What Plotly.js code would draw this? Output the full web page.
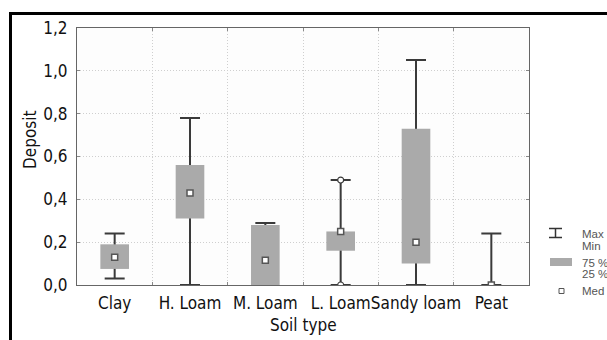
<!DOCTYPE html>
<html>
<head>
<meta charset="utf-8">
<script src="https://cdn.plot.ly/plotly-3.0.1.min.js"></script>
<style>
  html, body { margin: 0; padding: 0; background: #ffffff; }
  #wrap { position: relative; width: 607px; height: 340px; overflow: hidden; background: #ffffff; }
  #chart { position: absolute; left: 0; top: 0; width: 607px; height: 340px; }
  .frameTop { position: absolute; left: 9px; top: 12px; width: 598px; height: 3px; background: #000; }
  .frameLeft { position: absolute; left: 9px; top: 12px; width: 3px; height: 328px; background: #000; }
</style>
</head>
<body>
<div id="wrap">
  <div id="chart"></div>
  <div class="frameTop"></div>
  <div class="frameLeft"></div>
</div>
<script>
// ---- data ----
const categories = ['Clay', 'H. Loam', 'M. Loam', 'L. Loam', 'Sandy loam', 'Peat'];
const maxVals    = [0.24, 0.78, 0.29, 0.49, 1.05, 0.24];
const minVals    = [0.03, 0.00, 0.00, 0.00, 0.00, 0.00];
const q3Vals     = [0.19, 0.56, 0.28, 0.25, 0.73, 0.00];
const q1Vals     = [0.075, 0.31, 0.00, 0.16, 0.10, 0.00];
const medVals    = [0.13, 0.43, 0.115, 0.25, 0.20, 0.00];
const extremeCats = ['L. Loam', 'L. Loam'];
const extremeVals = [0.49, 0.00];
const yTickVals  = [0, 0.2, 0.4, 0.6, 0.8, 1.0, 1.2];
const yTickText  = ['0,0', '0,2', '0,4', '0,6', '0,8', '1,0', '1,2'];

const FONT = '"DejaVu Sans Condensed", "Liberation Sans", Arial, sans-serif';
const LFONT = '"Liberation Sans", Arial, sans-serif';
const WHISK = '#3a3a3a';
const BOXC = '#aaaaaa';

const whiskerTrace = {
  type: 'bar',
  x: categories,
  y: maxVals,
  width: 0.38,
  marker: { color: 'rgba(0,0,0,0)', line: { width: 0 } },
  error_y: {
    type: 'data', symmetric: false,
    array: maxVals.map(() => 0),
    arrayminus: maxVals.map((v, i) => v - minVals[i]),
    color: WHISK, thickness: 2, width: 10
  },
  hoverinfo: 'skip', showlegend: false
};

const boxTrace = {
  type: 'bar',
  x: categories,
  base: q1Vals,
  y: q3Vals.map((v, i) => v - q1Vals[i]),
  width: 0.38,
  marker: { color: BOXC, line: { width: 0 } },
  showlegend: false
};

const extremeTrace = {
  type: 'scatter', mode: 'markers',
  x: extremeCats, y: extremeVals,
  marker: { symbol: 'circle', size: 6, color: '#ffffff', line: { color: WHISK, width: 1.2 } },
  showlegend: false
};

const medTrace = {
  type: 'scatter', mode: 'markers',
  x: categories, y: medVals,
  marker: { symbol: 'square', size: 6, color: '#ffffff', line: { color: '#555555', width: 1.5 } },
  showlegend: false
};

const L = 77, R = 529, T = 28, B = 285;
const pw = R - L, ph = B - T;
const px = v => (v - L) / pw;
const py = v => (B - v) / ph;

const legendShapes = [
  { type: 'line', xref: 'paper', yref: 'paper', x0: px(549), x1: px(562), y0: py(228.5), y1: py(228.5), line: { color: '#333', width: 1.5 } },
  { type: 'line', xref: 'paper', yref: 'paper', x0: px(549), x1: px(562), y0: py(237.5), y1: py(237.5), line: { color: '#333', width: 1.5 } },
  { type: 'line', xref: 'paper', yref: 'paper', x0: px(555.5), x1: px(555.5), y0: py(228.5), y1: py(237.5), line: { color: '#333', width: 1.5 } },
  { type: 'rect', xref: 'paper', yref: 'paper', x0: px(550), x1: px(572), y0: py(258), y1: py(266), fillcolor: BOXC, line: { width: 0 } },
  { type: 'rect', xref: 'paper', yref: 'paper', x0: px(559), x1: px(564), y0: py(288.5), y1: py(293.5), fillcolor: '#fff', line: { color: '#555', width: 1 } }
];

const legFont = { family: LFONT, size: 11.5, color: '#555' };
const legTexts = [['Max', 234], ['Min', 246], ['75 %', 262.5], ['25 %', 274], ['Med', 291]];
const annotations = legTexts.map(([t, y]) => ({
  xref: 'paper', yref: 'paper', x: px(580), y: py(y), xanchor: 'left', yanchor: 'middle',
  text: t, showarrow: false, font: legFont
}));
annotations.push({
  xref: 'paper', yref: 'paper', x: px(30), y: py(140), xanchor: 'center', yanchor: 'middle',
  text: 'Deposit', textangle: -90, showarrow: false, font: { family: FONT, size: 17, color: '#111' }
});
annotations.push({
  xref: 'paper', yref: 'paper', x: 0.5, y: py(325), xanchor: 'center', yanchor: 'middle',
  text: 'Soil type', showarrow: false, font: { family: FONT, size: 17, color: '#111' }
});

const layout = {
  width: 607, height: 340,
  margin: { l: L, r: 607 - R, t: T, b: 340 - B, pad: 0 },
  paper_bgcolor: '#ffffff', plot_bgcolor: '#fdfdfd',
  separators: ', ',
  barmode: 'overlay',
  showlegend: false,
  font: { family: FONT, size: 17, color: '#111' },
  xaxis: {
    type: 'category', tickson: 'boundaries', tickangle: 0, automargin: false,
    showgrid: true, gridcolor: '#cfcfcf', griddash: '1px,2px', gridwidth: 1,
    showline: true, linecolor: '#666', linewidth: 1, mirror: 'ticks',
    ticks: 'inside', ticklen: 3, tickcolor: '#888',
    tickfont: { family: FONT, size: 17, color: '#111' },
    ticklabelstandoff: 3,
    fixedrange: true
  },
  yaxis: {
    range: [0, 1.2], tickvals: yTickVals, ticktext: yTickText, automargin: false,
    showgrid: true, gridcolor: '#cfcfcf', griddash: '1px,2px', gridwidth: 1,
    zeroline: false,
    showline: true, linecolor: '#666', linewidth: 1, mirror: 'ticks',
    ticks: 'inside', ticklen: 3, tickcolor: '#888',
    tickfont: { family: FONT, size: 17, color: '#111' },
    ticklabelstandoff: 5,
    fixedrange: true
  },
  shapes: legendShapes,
  annotations: annotations
};

Plotly.newPlot('chart', [whiskerTrace, boxTrace, extremeTrace, medTrace], layout, { displayModeBar: false, staticPlot: true });
</script>
</body>
</html>
